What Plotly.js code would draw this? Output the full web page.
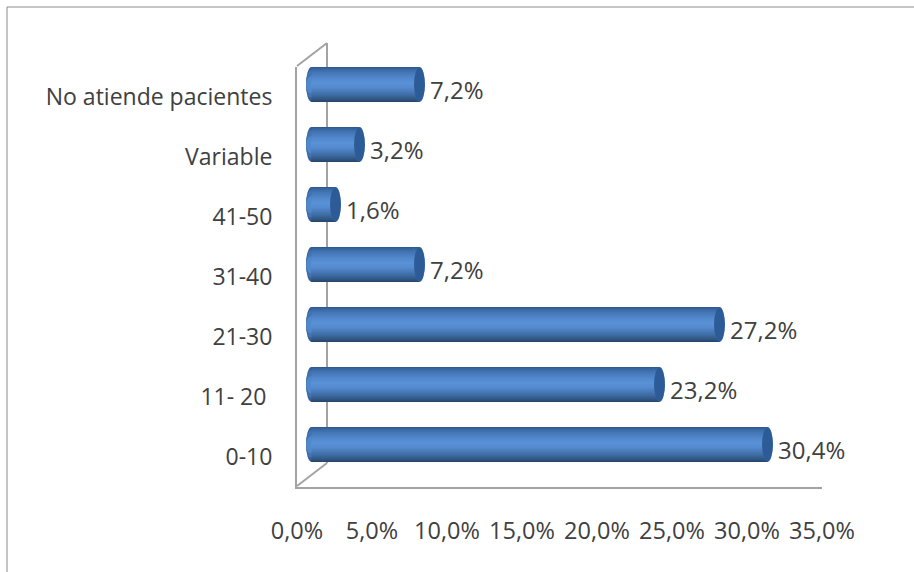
<!DOCTYPE html>
<html><head><meta charset="utf-8">
<script src="https://cdn.plot.ly/plotly-3.0.1.min.js"></script>
<style>html,body{margin:0;padding:0;background:#fff}</style></head>
<body><div id="chart" style="width:914px;height:572px"></div>
<script>
const categories = ["0-10", "11- 20\u00a0", "21-30", "31-40", "41-50", "Variable", "No atiende pacientes"];
const values = [30.4, 23.2, 27.2, 7.2, 1.6, 3.2, 7.2];
const valueLabels = ["30,4%", "23,2%", "27,2%", "7,2%", "1,6%", "3,2%", "7,2%"];
const xTickVals = [0, 5, 10, 15, 20, 25, 30, 35];
const xTickText = ["0,0%", "5,0%", "10,0%", "15,0%", "20,0%", "25,0%", "30,0%", "35,0%"];

const W = 914, H = 572;
const FONT = '"Open Sans", "Noto Sans", sans-serif', TXT = '#404040', GREY = '#a3a3a3';
const barH = 35 / 60;
const anchors = [[0,[47,90,142]],[.06,[58,106,166]],[.16,[70,120,184]],[.30,[81,135,203]],[.44,[90,146,216]],[.58,[84,137,205]],[.70,[71,120,182]],[.80,[60,105,159]],[.90,[49,87,133]],[1,[36,64,100]]];
function shade(f){
  for(let k=1;k<anchors.length;k++){
    if(f<=anchors[k][0]){
      const [a,ca]=anchors[k-1],[b,cb]=anchors[k],t=(f-a)/(b-a);
      return 'rgb('+ca.map((c,j)=>Math.round(c+(cb[j]-c)*t)).join(',')+')';
    }
  }
  return 'rgb(36,64,100)';
}
const STRIPS = 35;

const traces = [{
  type:'scatter', mode:'markers', x:values, y:categories, xaxis:'x', yaxis:'y',
  marker:{opacity:0}, hoverinfo:'skip', showlegend:false
}];
for(let s=0;s<STRIPS;s++){
  const f=s/STRIPS;
  traces.push({
    type:'bar', orientation:'h', x:values, y:categories, xaxis:'x2', yaxis:'y2',
    marker:{color:shade(f), line:{width:0}}, offset:-barH/2, width:barH*(1-f),
    hoverinfo:'skip', showlegend:false
  });
}

const wall = [[297,66,327,43],[327,43,327,463],[297,486,327,463]];
const shapes = wall.map(([a,b,c,d]) => ({type:'line', xref:'paper', yref:'paper', layer:'below',
  x0:a/W, x1:c/W, y0:1-b/H, y1:1-d/H, line:{color:GREY, width:2}}));
shapes.push({type:'line', xref:'paper', yref:'paper', x0:7/W, x1:1, y0:1-7/H, y1:1-7/H, line:{color:'#8c8c8c', width:1}});
shapes.push({type:'line', xref:'paper', yref:'paper', x0:7/W, x1:7/W, y0:0, y1:1-7/H, line:{color:'#8c8c8c', width:1}});

const ell = (v,i,rx,y0f,y1f,c,layer) => ({type:'circle', xref:'x2', yref:'y2', xsizemode:'pixel', xanchor:v,
  x0:-rx, x1:rx, y0:i-barH/2+barH*y0f, y1:i-barH/2+barH*y1f, fillcolor:c, line:{width:0}, layer:layer});
values.forEach((v,i) => {
  shapes.push(ell(0,i,5.5,0,1,'#325c93','between'));
  shapes.push(ell(0,i,5.4,.10,.92,'#4273b2','between'));
  shapes.push(ell(0,i,5.3,.24,.74,'#5088cc','between'));
  shapes.push(ell(v,i,5.5,0,1,'#34659f','above'));
  shapes.push(ell(v,i,5,.02,.98,'#2c5b97','above'));
});

const annotations = values.map((v,i) => ({xref:'x2', yref:'y2', x:v, y:i, text:valueLabels[i], showarrow:false,
  xanchor:'left', yanchor:'middle', xshift:8, yshift:-4.5, font:{family:FONT, size:24, color:TXT}}));

const layout = {
  width:W, height:H, autosize:false, margin:{l:0,r:0,t:0,b:0},
  paper_bgcolor:'#fff', plot_bgcolor:'rgba(0,0,0,0)', barmode:'overlay', showlegend:false,
  xaxis:{domain:[297/W,822/W], range:[0,35], anchor:'y', tickmode:'array', tickvals:xTickVals, ticktext:xTickText,
    showgrid:false, zeroline:false, showline:true, linecolor:GREY, linewidth:2, ticks:'outside', ticklen:0,
    ticklabelstandoff:22, tickangle:0, tickfont:{family:FONT, size:23.5, color:TXT}},
  yaxis:{domain:[1-486.5/H,1-66.5/H], range:[-0.5,6.5], anchor:'x', type:'category', categoryorder:'array', categoryarray:categories,
    showgrid:false, zeroline:false, showline:true, linecolor:GREY, linewidth:2, ticks:'', ticklabelstandoff:18,
    tickfont:{family:FONT, size:23, color:TXT}},
  xaxis2:{domain:[296.5/W,836.5/W], range:[-1,35], anchor:'y2', visible:false},
  yaxis2:{domain:[1-474.5/H,1-54.5/H], range:[-0.5,6.5], anchor:'x2', type:'category', categoryorder:'array', categoryarray:categories, visible:false},
  shapes, annotations
};
Plotly.newPlot('chart', traces, layout, {displayModeBar:false, staticPlot:true});
</script></body></html>
